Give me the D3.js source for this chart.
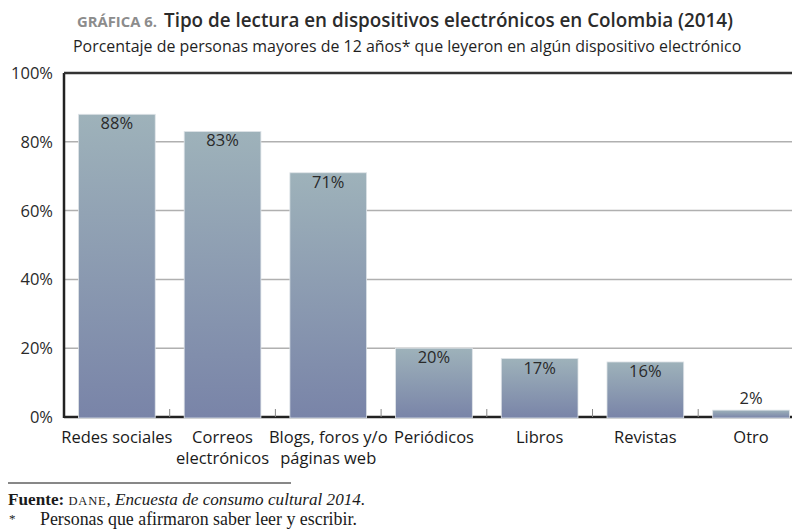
<!DOCTYPE html>
<html>
<head>
<meta charset="utf-8">
<script src="https://cdn.jsdelivr.net/npm/d3@7"></script>
<style>
  body { margin:0; background:white; }
  svg { display:block; font-family:'Open Sans', 'Noto Sans', sans-serif; }
</style>
</head>
<body>
<svg id="chart" width="792" height="529"></svg>
<script>
// data
const categories = ["Redes sociales", "Correos electrónicos", "Blogs, foros y/o páginas web",
                    "Periódicos", "Libros", "Revistas", "Otro"];
const labelLines = [["Redes sociales"], ["Correos", "electrónicos"], ["Blogs, foros y/o", "páginas web"],
                    ["Periódicos"], ["Libros"], ["Revistas"], ["Otro"]];
const values = [88, 83, 71, 20, 17, 16, 2];
const yTicks = [0, 20, 40, 60, 80, 100];

const svg = d3.select('#chart');
const plot = { left: 64, top: 73, bottom: 417, right: 792 };

// shrink/grow font so a text node spans the wanted width
function fitWidth(node, width) {
    let fs = parseFloat(node.getAttribute('font-size'));
    let w = node.getComputedTextLength();
    node.setAttribute('font-size', (fs * width / w).toFixed(2));
}

const x = d3.scaleBand()
    .domain(categories)
    .range([plot.left, plot.left + 7 * 105.7])
    .paddingInner(0.274)
    .paddingOuter(0.137);
const y = d3.scaleLinear().domain([0, 100]).range([plot.bottom, plot.top]);

// gradient for bars
const grad = svg.append('defs').append('linearGradient')
    .attr('id', 'barGrad').attr('x1', 0).attr('y1', 0).attr('x2', 0).attr('y2', 1);
grad.append('stop').attr('offset', '0%').attr('stop-color', '#9eb2ba');
grad.append('stop').attr('offset', '100%').attr('stop-color', '#7984a8');

// titles
const t0 = svg.append('text').attr('x', 77).attr('y', 27)
    .attr('fill', '#8c8c8c').attr('font-weight', 700).attr('font-size', 14)
    .text('GRÁFICA 6.');
fitWidth(t0.node(), 80);
const t1 = svg.append('text').attr('x', 164).attr('y', 27)
    .attr('fill', '#2b2b2b').attr('font-weight', 600).attr('font-size', 18)
    .text('Tipo de lectura en dispositivos electrónicos en Colombia (2014)');
fitWidth(t1.node(), 569);

const t2 = svg.append('text').attr('x', 73).attr('y', 52)
    .attr('font-size', 15).attr('fill', '#1f1f1f')
    .text('Porcentaje de personas mayores de 12 años* que leyeron en algún dispositivo electrónico');
fitWidth(t2.node(), 669);

// gridlines
svg.append('g').selectAll('line')
    .data(yTicks.filter(d => d > 0 && d < 100))
    .join('line')
    .attr('x1', plot.left).attr('x2', plot.right)
    .attr('y1', d => y(d)).attr('y2', d => y(d))
    .attr('stroke', '#b0b0b0').attr('stroke-width', 1.5);

// baseline and ticks between bars
svg.append('line').attr('x1', plot.left).attr('x2', plot.right)
    .attr('y1', y(0)).attr('y2', y(0))
    .attr('stroke', '#222').attr('stroke-width', 2.5);
svg.append('g').selectAll('line')
    .data(categories.slice(1))
    .join('line')
    .attr('x1', d => x(d) - x.step() * x.paddingInner() / 2)
    .attr('x2', d => x(d) - x.step() * x.paddingInner() / 2)
    .attr('y1', y(0)).attr('y2', y(0) - 8)
    .attr('stroke', '#888').attr('stroke-width', 1);

// bars
svg.append('g').selectAll('rect')
    .data(values)
    .join('rect')
    .attr('x', (d, i) => x(categories[i]))
    .attr('width', x.bandwidth())
    .attr('y', d => y(d))
    .attr('height', d => y(0) - y(d) + 1)
    .attr('fill', 'url(#barGrad)')
    .attr('stroke', '#dfe4e8').attr('stroke-width', 0.8);

// value labels
svg.append('g').selectAll('text')
    .data(values)
    .join('text')
    .attr('x', (d, i) => x(categories[i]) + x.bandwidth() / 2)
    .attr('y', d => d < 5 ? y(d) - 6 : y(d) + 15)
    .attr('text-anchor', 'middle')
    .attr('font-size', 16.5).attr('fill', '#2a2a2a')
    .text(d => d + '%');

// frame: left axis and top line
svg.append('line').attr('x1', plot.left).attr('x2', plot.left)
    .attr('y1', plot.top).attr('y2', plot.bottom + 1)
    .attr('stroke', '#222').attr('stroke-width', 2.5);
svg.append('line').attr('x1', plot.left).attr('x2', plot.right)
    .attr('y1', plot.top).attr('y2', plot.top)
    .attr('stroke', '#333').attr('stroke-width', 2.5);

// y tick labels
svg.append('g').selectAll('text')
    .data(yTicks)
    .join('text')
    .attr('x', 53).attr('y', d => y(d) + 6)
    .attr('text-anchor', 'end')
    .attr('font-size', 16.5).attr('fill', '#2a2a2a')
    .text(d => d + '%');

// category labels
const cat = svg.append('g').selectAll('text')
    .data(labelLines)
    .join('text')
    .attr('x', (d, i) => x(categories[i]) + x.bandwidth() / 2)
    .attr('y', 443)
    .attr('text-anchor', 'middle')
    .attr('font-size', 16.5).attr('fill', '#1a1a1a');
cat.selectAll('tspan')
    .data(d => d)
    .join('tspan')
    .attr('x', function() { return this.parentNode.getAttribute('x'); })
    .attr('dy', (d, i) => i === 0 ? 0 : 21)
    .text(d => d);

// footer
const serif = "'Liberation Serif', 'DejaVu Serif', serif";
svg.append('line').attr('x1', 8).attr('x2', 291).attr('y1', 483).attr('y2', 483)
    .attr('stroke', '#111').attr('stroke-width', 1);
const src = svg.append('text').attr('x', 8).attr('y', 505)
    .attr('font-family', serif)
    .attr('font-size', 16).attr('fill', '#1a1a1a');
src.append('tspan').text('Fuente: ').attr('font-weight', 700);
src.append('tspan').text('DANE').attr('font-size', 12.5).attr('letter-spacing', 0.8);
src.append('tspan').text(', ');
src.append('tspan').text('Encuesta de consumo cultural 2014.').attr('font-style', 'italic');
fitWidth(src.node(), 360);

svg.append('text').attr('x', 9).attr('y', 523)
    .attr('font-family', serif)
    .attr('font-size', 13).attr('fill', '#1a1a1a').text('*');
const note = svg.append('text').attr('x', 40).attr('y', 525)
    .attr('font-family', serif)
    .attr('font-size', 16).attr('fill', '#1a1a1a')
    .text('Personas que afirmaron saber leer y escribir.');
fitWidth(note.node(), 317);
</script>
</body>
</html>
